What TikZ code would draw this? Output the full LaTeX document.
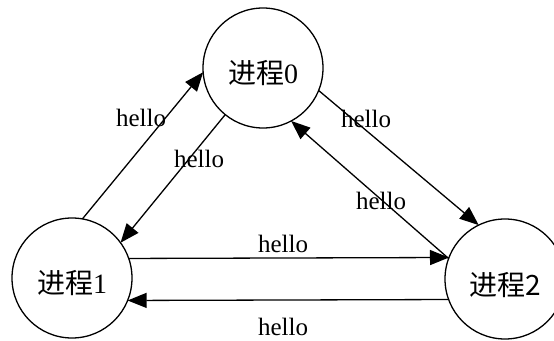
\documentclass[tikz,border=0pt]{standalone}
\usepackage{fontspec}
\setmainfont{Liberation Serif}
\newfontfamily\cjk{Noto Sans CJK SC}
\usetikzlibrary{arrows.meta}

\begin{document}
\begin{tikzpicture}[x=1pt, y=1pt, line width=1.3pt,
    font=\fontsize{25}{30}\selectfont,
    proc/.style={draw, circle, minimum size=120pt, inner sep=0pt, outer sep=0pt,
      font=\fontsize{28}{32}\selectfont, text height=32pt, text depth=0pt},
    msg/.style={inner sep=0pt},
    link/.style={-{Triangle[length=19pt,width=15pt]}}]
  \useasboundingbox (0,0) rectangle (554,340);
  \clip (0,0) rectangle (554,340);

  \node (p0) at (263,272) [proc]{{\cjk 进程}0};
  \node (p1) at (72,62) [proc]{{\cjk 进程}1};
  \node (p2) at (505,61) [proc]{\cjk 进程2};

  \draw[link] (p1.80) -- (p0.184);
  \draw[link] (p0.231) -- (p1.36);
  \draw[link] (p0.338) -- (p2.116.6);
  \draw[link] (p2.160) -- (p0.298);
  \draw[link] (p1.19.5) -- (p2.159.5);
  \draw[link] (p2.200.5) -- (p1.338.5);

  \node (m10) at (141,222) [msg]{hello};
  \node (m01) at (199,181) [msg]{hello};
  \node (m02) at (366,221) [msg]{hello};
  \node (m20) at (381,139) [msg]{hello};
  \node (m12) at (283,96.5) [msg]{hello};
  \node (m21) at (283,13.5) [msg]{hello};
\end{tikzpicture}
\end{document}
